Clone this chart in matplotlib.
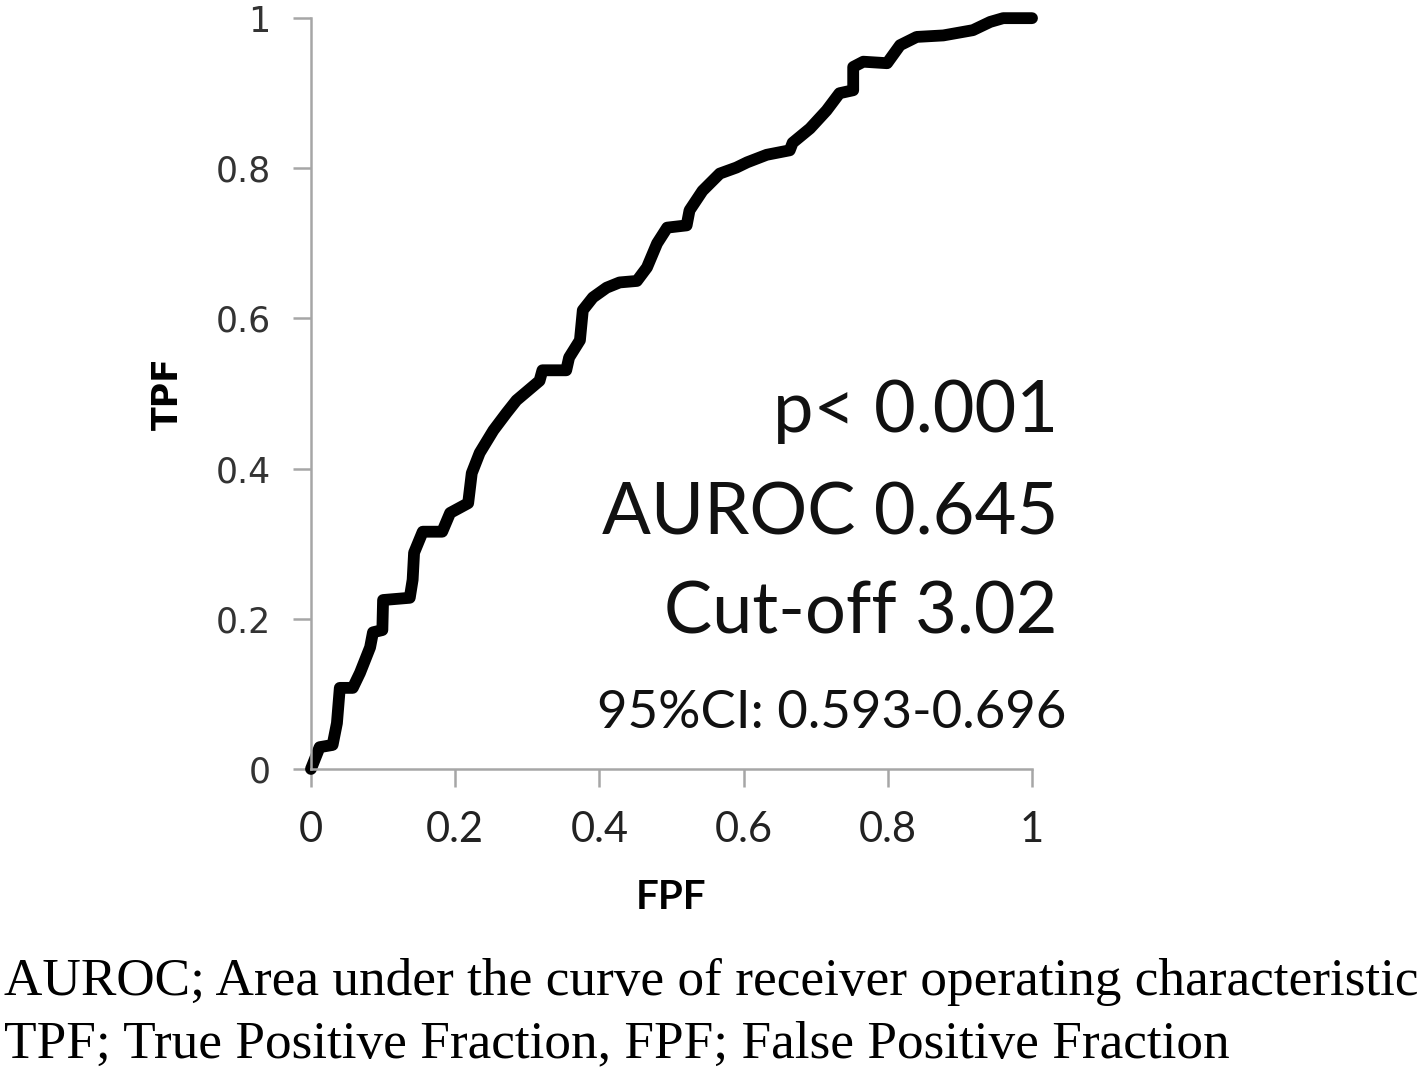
import matplotlib
matplotlib.use("Agg")
import matplotlib.pyplot as plt

# ROC curve points
fpf = [0.0, 0.012, 0.030, 0.036, 0.040, 0.058, 0.068, 0.082, 0.086, 0.099, 0.100,
       0.137, 0.141, 0.143, 0.155, 0.182, 0.193, 0.218, 0.223, 0.234, 0.253, 0.271,
       0.285, 0.317, 0.321, 0.354, 0.358, 0.373, 0.377, 0.391, 0.410, 0.428, 0.452,
       0.466, 0.480, 0.494, 0.521, 0.525, 0.543, 0.567, 0.590, 0.605, 0.632, 0.664,
       0.668, 0.692, 0.715, 0.733, 0.752, 0.752, 0.766, 0.799, 0.817, 0.840, 0.877,
       0.918, 0.942, 0.960, 1.0]
tpf = [0.0, 0.029, 0.032, 0.061, 0.108, 0.108, 0.128, 0.162, 0.182, 0.185, 0.225,
       0.228, 0.252, 0.288, 0.316, 0.316, 0.341, 0.354, 0.394, 0.421, 0.451, 0.474,
       0.491, 0.517, 0.531, 0.531, 0.548, 0.571, 0.611, 0.628, 0.641, 0.648, 0.650,
       0.668, 0.700, 0.721, 0.724, 0.744, 0.770, 0.793, 0.801, 0.808, 0.818, 0.824,
       0.834, 0.853, 0.877, 0.900, 0.904, 0.935, 0.942, 0.940, 0.964, 0.975, 0.977,
       0.984, 0.995, 1.0, 1.0]

ticks = [0, 0.2, 0.4, 0.6, 0.8, 1]
tick_labels = ["0", "0.2", "0.4", "0.6", "0.8", "1"]
stats = ["p< 0.001", "AUROC 0.645", "Cut-off 3.02"]
ci_text = "95%CI: 0.593-0.696"
caption = ["AUROC; Area under the curve of receiver operating characteristic",
           "TPF; True Positive Fraction, FPF; False Positive Fraction"]

fig = plt.figure(figsize=(14.18, 10.68), dpi=100)
ax = fig.add_axes([0.2193, 0.280, 0.5085, 0.703])

ax.plot(fpf, tpf, color="black", lw=8.5, solid_joinstyle="round",
        solid_capstyle="round", clip_on=False)

ax.set_xlim(0, 1)
ax.set_ylim(0, 1)
for s in ["top", "right"]:
    ax.spines[s].set_visible(False)
for s in ["left", "bottom"]:
    ax.spines[s].set_color("#a6a6a6")
    ax.spines[s].set_linewidth(1.8)

ax.set_xticks(ticks)
ax.set_xticklabels(tick_labels, family="Lato", fontsize=30, color="#222222")
ax.set_yticks(ticks)
ax.set_yticklabels(tick_labels, family="DejaVu Sans", fontsize=25, color="#333333")
ax.tick_params(axis="both", direction="out", length=13, width=1.8, color="#a6a6a6")
ax.tick_params(axis="x", pad=17)
ax.tick_params(axis="y", pad=16)

ax.set_xlabel("FPF", family="Lato", fontweight="bold", fontsize=29, labelpad=22)
ax.set_ylabel("TPF", family="DejaVu Sans", fontweight="bold", fontsize=25, labelpad=22)

ys = [0.449, 0.312, 0.180]
for txt, yy in zip(stats, ys):
    ax.text(1.036, yy, txt, transform=ax.transAxes, ha="right", va="baseline",
            family="Lato", fontsize=52, color="#111111")
ax.text(1.047, 0.055, ci_text, transform=ax.transAxes, ha="right", va="baseline",
        family="Lato", fontsize=38, color="#111111")

fig.text(0.003, 0.068, caption[0], family="Liberation Serif", fontsize=38.3,
         ha="left", va="baseline")
fig.text(0.003, 0.010, caption[1], family="Liberation Serif", fontsize=38.3,
         ha="left", va="baseline")

fig.savefig("out.png", dpi=100)
